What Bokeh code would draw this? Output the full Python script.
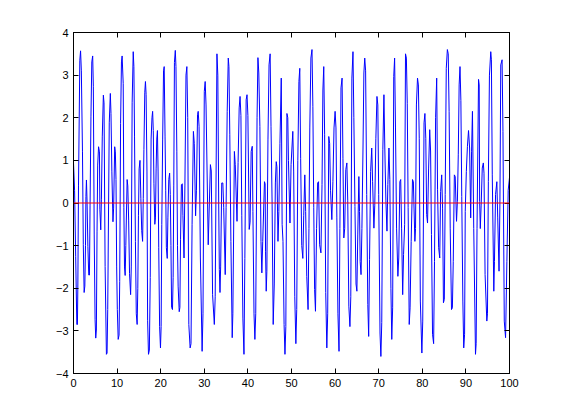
from bokeh.plotting import figure
from bokeh.models import Range1d, LinearAxis, FixedTicker, Span, CustomLabelingPolicy
from bokeh.embed import file_html
from bokeh.resources import INLINE

# signal vertices (x, y)
x_vals = [
    0.0, 0.25, 0.5, 0.76, 0.9, 1.0, 1.15, 1.45, 1.62, 1.8, 2.06, 2.25, 2.44, 2.6, 2.75, 2.85, 2.97, 3.1,
    3.3, 3.5, 3.66, 3.8, 4.0, 4.2, 4.4, 4.55, 4.75, 4.95, 5.1, 5.25, 5.4, 5.55, 5.75, 5.95, 6.05, 6.25,
    6.4, 6.6, 6.85, 7.0, 7.25, 7.55, 7.7, 7.85, 8.2, 8.45, 8.6, 8.8, 9.05, 9.2, 9.45, 9.6, 9.75, 9.9,
    10.05, 10.25, 10.45, 10.6, 10.8, 11.0, 11.15, 11.4, 11.55, 11.7, 11.85, 12.0, 12.3, 12.45, 12.65,
    12.85, 13.1, 13.25, 13.45, 13.7, 13.85, 14.0, 14.2, 14.4, 14.6, 14.75, 14.9, 15.05, 15.25, 15.45,
    15.65, 15.85, 16.0, 16.15, 16.35, 16.5, 16.65, 16.85, 17.0, 17.2, 17.4, 17.6, 17.8, 18.0, 18.15,
    18.3, 18.45, 18.65, 18.8, 18.95, 19.1, 19.25, 19.4, 19.55, 19.75, 19.95, 20.1, 20.25, 20.45, 20.65,
    20.8, 21.0, 21.15, 21.3, 21.5, 21.65, 21.85, 22.05, 22.2, 22.35, 22.5, 22.7, 22.85, 23.0, 23.15,
    23.35, 23.5, 23.7, 23.85, 24.0, 24.25, 24.4, 24.55, 24.75, 24.95, 25.1, 25.35, 25.55, 25.8, 26.0,
    26.2, 26.45, 26.75, 26.95, 27.2, 27.5, 27.7, 28.0, 28.2, 28.45, 28.6, 28.8, 29.1, 29.5, 29.7, 30.0,
    30.2, 30.4, 30.9, 31.4, 31.6, 31.9, 32.3, 32.5, 32.9, 33.1, 33.3, 33.45, 33.6, 33.75, 34.0, 34.25,
    34.45, 34.8, 35.0, 35.25, 35.5, 35.65, 35.85, 36.1, 36.4, 36.55, 36.9, 37.1, 37.5, 37.75, 38.0,
    38.2, 38.4, 38.6, 38.85, 39.1, 39.3, 39.6, 39.8, 40.0, 40.3, 40.5, 40.75, 41.0, 41.15, 41.4, 41.6,
    41.8, 42.1, 42.3, 42.5, 42.75, 43.0, 43.2, 43.4, 43.8, 43.95, 44.05, 44.2, 44.35, 44.6, 44.85, 45.1,
    45.3, 45.55, 45.8, 46.05, 46.3, 46.5, 46.65, 46.9, 47.1, 47.35, 47.65, 47.85, 48.05, 48.3, 48.5,
    48.7, 48.95, 49.15, 49.3, 49.65, 49.9, 50.3, 50.5, 50.75, 51.0, 51.2, 51.45, 51.7, 51.9, 52.1,
    52.35, 52.6, 52.8, 53.05, 53.25, 53.5, 53.8, 54.0, 54.2, 54.45, 54.7, 54.9, 55.1, 55.3, 55.5,
    55.75, 56.0, 56.2, 56.45, 56.75, 57.0, 57.2, 57.4, 57.6, 57.85, 58.1, 58.3, 58.55, 58.75, 58.95,
    59.25, 59.5, 59.75, 60.0, 60.2, 60.4, 60.65, 60.9, 61.1, 61.35, 61.6, 61.8, 62.0, 62.2, 62.45,
    62.7, 62.9, 63.15, 63.4, 63.6, 63.85, 64.1, 64.3, 64.55, 64.8, 65.0, 65.2, 65.45, 65.6, 65.75,
    65.95, 66.15, 66.4, 66.6, 66.8, 67.0, 67.25, 67.5, 67.7, 67.9, 68.15, 68.4, 68.6, 68.9, 69.1,
    69.35, 69.6, 69.8, 70.0, 70.3, 70.5, 70.7, 70.95, 71.2, 71.4, 71.65, 71.9, 72.1, 72.35, 72.55,
    72.8, 73.0, 73.2, 73.45, 73.65, 73.85, 74.1, 74.4, 74.6, 74.85, 75.05, 75.25, 75.5, 75.7, 75.95,
    76.15, 76.35, 76.55, 76.75, 77.0, 77.2, 77.45, 77.75, 77.95, 78.3, 78.45, 78.65, 78.9, 79.1, 79.3,
    79.55, 79.9, 80.1, 80.4, 80.6, 80.8, 81.0, 81.2, 81.45, 81.7, 81.9, 82.1, 82.35, 82.6, 82.8, 83.05,
    83.3, 83.5, 83.75, 84.0, 84.2, 84.45, 84.65, 84.85, 85.05, 85.25, 85.5, 85.75, 85.95, 86.15, 86.4,
    86.7, 86.9, 87.1, 87.35, 87.55, 87.85, 88.05, 88.25, 88.45, 88.65, 88.85, 89.05, 89.3, 89.5, 89.7,
    89.85, 90.1, 90.35, 90.6, 90.85, 91.1, 91.3, 91.5, 91.8, 92.2, 92.35, 92.55, 92.9, 93.05, 93.15,
    93.3, 93.5, 93.75, 94.0, 94.15, 94.4, 94.8, 94.95, 95.15, 95.4, 95.7, 95.85, 96.05, 96.4, 96.55,
    96.8, 97.1, 97.3, 97.6, 97.8, 98.0, 98.3, 98.5, 98.8, 99.1, 99.4, 99.7, 100.0,
]
y_vals = [
    0.95, 0.3, -1.25, -2.85, -2.85, -1.9, 0.42, 3.35, 3.57, 3.1, 1.2, -0.98, -2.1, -1.95, -1.0, 0.15, 0.54, 0.07,
    -1.02, -1.69, -1.69, -0.05, 2.02, 3.31, 3.45, 2.74, -0.75, -2.74, -3.17, -2.98, -0.66, 0.89, 1.32, 1.2, -0.16, -0.63,
    0.09, 1.55, 2.53, 2.35, -1.49, -3.55, -3.52, -2.5, 1.88, 2.57, 2.1, 0.73, -0.44, -0.12, 1.32, 1.2, 0.55, -1.5,
    -2.5, -3.2, -3.1, -1.84, 1.87, 3.31, 3.45, 2.8, -0.1, -1.5, -1.7, -1.0, 0.55, 0.4, -0.4,
    -1.65, -2.15, -1.5, 2.35, 3.55, 3.2, 1.55, -0.9, -2.6, -2.85, -2.0, -0.3, 0.8, 1.0, 0.1,
    -0.65, -0.9, 0.1, 1.25, 2.6, 2.85, 2.55, 0.75, -2.75, -3.55, -3.45, -1.75, 1.5, 2.0, 2.15,
    1.7, 0.45, -0.5, -0.35, 0.8, 1.5, 1.7, 0.75, -1.05, -2.9, -3.4, -2.9, -0.5, 1.5, 3.1,
    3.2, 1.55, 0.3, -1.05, -1.3, -0.35, 0.55, 0.7, 0.2, -1.0, -2.45, -2.5, -1.75, 0.4, 3.3,
    3.58, 3.2, 1.2, -1.0, -1.95, -2.55, -2.45, -0.85, 0.43, 0.45, -0.3, -1.29, 0.4, 3.0, 3.2,
    2.0, -2.85, -3.4, -3.3, -0.5, 1.68, 1.4, -0.3, 0.3, 2.07, 2.15, 1.8, -1.29, -3.48, -2.6, 2.62,
    2.85, 2.3, -0.98, 0.9, 0.75, -2.15, -2.85, -2.2, 3.5, 3.0, 0.0, -1.56, -2.1, -1.5, 0.47, 0.47,
    -0.1, -1.68, -0.1, 2.15, 3.4, 3.2, 1.6, -0.9, -3.16, -2.6, 1.21, 0.9, -0.43, 0.95, 2.23,
    2.5, 2.05, -0.3, -2.7, -3.55, -1.3, 2.42, 2.54, 2.05, -0.62, -0.45, 1.21, 1.33, -0.2, -2.6, -3.2,
    -2.6, 2.0, 3.41, 3.05, 1.8, -0.9, -1.64, -0.9, 0.5, 0.45, -1.13, -2.07, -1.6, 1.48, 3.24, 3.5,
    1.8, 0.0, -2.85, -1.9, 0.47, 0.97, 0.85, -0.9, -0.2, 1.4, 2.93, -0.5, -0.9, -2.85, -3.55,
    -2.9, 2.1, 2.0, 1.0, -0.47, 0.9, 1.68, 0.75, -2.2, -3.3, -2.5, 1.0, 2.85, 3.16, 1.05,
    -1.0, -1.3, -0.3, 0.66, -0.2, -1.72, -2.5, -0.6, 1.76, 3.4, 3.6, 2.27, -0.1, -2.03, -2.54,
    -0.6, 0.47, 0.5, -0.98, -1.17, 0.43, 2.65, 3.2, 1.6, -2.1, -3.4, -2.6, 1.56, 1.4, 0.3,
    -0.39, 0.5, 1.76, 2.15, 1.76, -0.35, -2.6, -3.48, -0.6, 2.7, 2.93, 1.05, -0.82, -0.6, 0.78,
    0.94, 0.05, -2.42, -2.9, -2.2, 2.93, 3.55, 2.0, -0.08, -1.9, -2.07, -0.75, 0.62, -0.2, -1.37,
    -1.68, -0.6, 1.29, 3.05, 3.4, 3.1, 0.2, -2.38, -3.13, -1.33, 0.74, 1.29, 0.5, -0.59, -0.05,
    1.52, 2.5, 2.3, 0.2, -3.05, -3.6, -2.8, 1.25, 2.54, 1.29, 0.05, -0.66, 0.43, 1.29, 0.55,
    -2.0, -3.2, -2.46, 2.97, 3.4, 1.76, -0.59, -1.72, -1.29, 0.5, 0.55, -0.59, -2.15, -1.21, -0.5,
    3.5, 3.4, 2.34, -0.1, -2.85, -2.46, -0.9, 0.55, 0.5, -0.9, -0.6, 2.3, 2.93, 2.77, 1.52,
    -2.3, -3.52, -2.77, 1.88, 2.1, 1.52, -0.27, -0.47, 0.82, 1.72, 1.22, -0.74, -3.08, -3.3, -1.37, 2.0,
    2.93, 0.31, -1.05, -1.29, 0.27, 0.66, -0.12, -2.34, -2.26, 0.2, 3.16, 3.6, 3.5, 2.15, -0.59,
    -2.5, -2.46, -1.37, 0.66, 0.62, -0.43, 0.04, 1.13, 2.77, 3.2, 2.4, 0.15, -2.3, -3.4, -3.08,
    -0.2, 0.74, 1.33, 1.7, 1.29, -0.35, 1.2, 2.15, -0.6, -3.55, -3.3, -0.6, 2.9, 2.77, 0.04,
    -0.6, -0.05, 0.82, 0.94, 0.7, -1.68, -2.77, -2.6, 0.5, 3.0, 3.55, 3.36, 0.66, -2.07, -1.37,
    0.2, 0.5, -0.35, -1.6, 0.0, 3.24, 3.36, 1.68, -2.77, -3.16, -1.37, 0.3, 0.6,
]
x_ticks = [0, 10, 20, 30, 40, 50, 60, 70, 80, 90, 100]
y_ticks = [-4, -3, -2, -1, 0, 1, 2, 3, 4]
baseline = 0

p = figure(width=553, height=412, output_backend="svg", toolbar_location=None,
           x_range=Range1d(0, 100), y_range=Range1d(-4, 4),
           min_border_left=73, min_border_right=44, min_border_top=32, min_border_bottom=39,
           background_fill_color="white", border_fill_color="white")
p.grid.visible = False
p.outline_line_color = "black"
p.outline_line_width = 1

hide_labels = CustomLabelingPolicy(code="""
const all = [...indices];
for (const i of all) indices.unset(i);
return indices;
""")

p.add_layout(LinearAxis(major_label_policy=hide_labels), "above")
p.add_layout(LinearAxis(major_label_policy=hide_labels), "right")

for ax in p.xaxis:
    ax.ticker = FixedTicker(ticks=x_ticks)
for ax in p.yaxis:
    ax.ticker = FixedTicker(ticks=y_ticks)

for ax in p.axis:
    ax.axis_line_color = "black"
    ax.major_tick_line_color = "black"
    ax.major_tick_in = 5
    ax.major_tick_out = 0
    ax.minor_tick_in = 0
    ax.minor_tick_out = 0
    ax.minor_tick_line_color = None
    ax.major_label_text_font = "Liberation Sans"
    ax.major_label_text_font_size = "11px"
    ax.major_label_text_color = "black"
    ax.major_label_standoff = 5

p.above[0].major_label_standoff = 0
p.right[0].major_label_standoff = 0

p.line(x_vals, y_vals, line_color="#0000ff", line_width=1)
p.add_layout(Span(location=baseline, dimension="width", line_color="#ff0000", line_width=1))

open("out.html", "w").write(file_html(p, INLINE))
